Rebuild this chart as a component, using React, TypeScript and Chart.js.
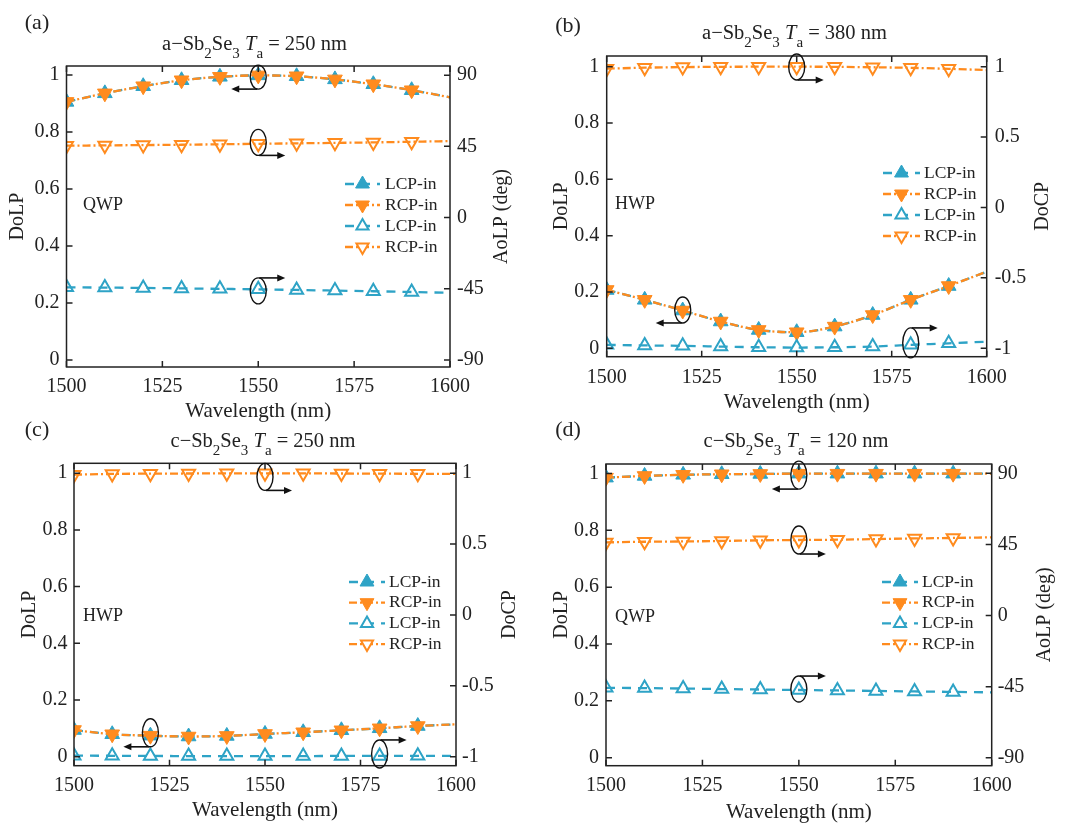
import React, { useEffect, useRef } from "react";
import { Chart, registerables, Plugin, ChartConfiguration } from "chart.js";
import { drawPoint } from "chart.js/helpers";

Chart.register(...registerables);

const FONT = "'Liberation Serif', 'Times New Roman', serif";
const INK = "#222222";
const BLUE = "#2ea3c6";
const ORANGE = "#ff8b1e";

// shared axes
const wavelengths = [1500, 1510, 1520, 1530, 1540, 1550, 1560, 1570, 1580, 1590, 1600];
const wavelengthTicks = [1500, 1525, 1550, 1575, 1600];
const dolpTicks = [0, 0.2, 0.4, 0.6, 0.8, 1];
const aolpTicks = [-90, -45, 0, 45, 90];
const docpTicks = [-1, -0.5, 0, 0.5, 1];

// (a) a-Sb2Se3, Ta = 250 nm (QWP)
const aDolpLcp = [0.906, 0.936, 0.961, 0.982, 0.994, 0.999, 0.996, 0.985, 0.968, 0.947, 0.922];
const aDolpRcp = [0.906, 0.936, 0.961, 0.982, 0.994, 0.999, 0.996, 0.985, 0.968, 0.947, 0.922];
const aAolpLcp = [-44.1, -44.3, -44.5, -44.8, -45.1, -45.4, -45.8, -46.2, -46.6, -47.1, -47.6];
const aAolpRcp = [45.4, 45.6, 45.8, 46.0, 46.3, 46.6, 46.9, 47.2, 47.5, 47.9, 48.3];

// (b) a-Sb2Se3, Ta = 380 nm (HWP)
const bDolpLcp = [0.207, 0.172, 0.134, 0.095, 0.065, 0.057, 0.077, 0.118, 0.172, 0.221, 0.272];
const bDolpRcp = [0.207, 0.172, 0.134, 0.095, 0.065, 0.057, 0.077, 0.118, 0.172, 0.221, 0.272];
const bDocpLcp = [-0.976, -0.98, -0.983, -0.988, -0.993, -0.995, -0.993, -0.988, -0.976, -0.965, -0.953];
const bDocpRcp = [0.986, 0.993, 0.997, 0.999, 1.0, 1.0, 0.999, 0.996, 0.992, 0.985, 0.976];

// (c) c-Sb2Se3, Ta = 250 nm (HWP)
const cDolpLcp = [0.094, 0.079, 0.074, 0.071, 0.073, 0.08, 0.086, 0.093, 0.1, 0.108, 0.114];
const cDolpRcp = [0.094, 0.079, 0.074, 0.071, 0.073, 0.08, 0.086, 0.093, 0.1, 0.108, 0.114];
const cDocpLcp = [-0.993, -0.994, -0.995, -0.996, -0.996, -0.996, -0.996, -0.995, -0.995, -0.994, -0.994];
const cDocpRcp = [0.99, 0.995, 0.997, 0.998, 0.999, 0.999, 0.999, 0.998, 0.997, 0.996, 0.995];

// (d) c-Sb2Se3, Ta = 120 nm (QWP)
const dDolpLcp = [0.985, 0.991, 0.995, 0.997, 0.998, 0.999, 0.999, 0.999, 0.999, 0.999, 0.999];
const dDolpRcp = [0.985, 0.991, 0.995, 0.997, 0.998, 0.999, 0.999, 0.999, 0.999, 0.999, 0.999];
const dAolpLcp = [-45.7, -45.9, -46.2, -46.5, -46.8, -47.1, -47.4, -47.7, -48.0, -48.3, -48.6];
const dAolpRcp = [46.3, 46.7, 46.9, 47.2, 47.6, 47.8, 48.0, 48.4, 48.8, 49.1, 49.5];

type Note = { x: number; y: number; axis: "y" | "y2"; ry: number; side: "top" | "bottom"; dir: 1 | -1 };

// circled-curve + arrow callouts, anchored in data units
const aNotes: Note[] = [
  { x: 1550, axis: "y", y: 0.993, ry: 12, side: "bottom", dir: -1 },
  { x: 1550, axis: "y2", y: 47.5, ry: 13, side: "bottom", dir: 1 },
  { x: 1550, axis: "y2", y: -46.4, ry: 13, side: "top", dir: 1 },
];
const bNotes: Note[] = [
  { x: 1550, axis: "y2", y: 0.998, ry: 13, side: "bottom", dir: 1 },
  { x: 1520, axis: "y", y: 0.136, ry: 13, side: "bottom", dir: -1 },
  { x: 1580, axis: "y2", y: -0.962, ry: 15, side: "top", dir: 1 },
];
const cNotes: Note[] = [
  { x: 1550, axis: "y2", y: 0.974, ry: 13.5, side: "bottom", dir: 1 },
  { x: 1520, axis: "y", y: 0.084, ry: 14, side: "bottom", dir: -1 },
  { x: 1580, axis: "y2", y: -0.981, ry: 14, side: "top", dir: 1 },
];
const dNotes: Note[] = [
  { x: 1550, axis: "y", y: 0.994, ry: 14, side: "bottom", dir: -1 },
  { x: 1550, axis: "y2", y: 47.8, ry: 14, side: "bottom", dir: 1 },
  { x: 1550, axis: "y2", y: -46.5, ry: 13, side: "top", dir: 1 },
];

type Panel = {
  label: string;
  phase: string;
  thickness: string;
  mode: string;
  rightTitle: string;
  rightTicks: number[];
  leftRange: [number, number];
  rightRange: [number, number];
  dolpLcp: number[];
  dolpRcp: number[];
  rightLcp: number[];
  rightRcp: number[];
  notes: Note[];
};

const panels: Panel[] = [
  { label: "(a)", phase: "a", thickness: "250", mode: "QWP", rightTitle: "AoLP (deg)", rightTicks: aolpTicks,
    leftRange: [-0.025, 1.032], rightRange: [-94.5, 95.8],
    dolpLcp: aDolpLcp, dolpRcp: aDolpRcp, rightLcp: aAolpLcp, rightRcp: aAolpRcp, notes: aNotes },
  { label: "(b)", phase: "a", thickness: "380", mode: "HWP", rightTitle: "DoCP", rightTicks: docpTicks,
    leftRange: [-0.03, 1.038], rightRange: [-1.06, 1.076],
    dolpLcp: bDolpLcp, dolpRcp: bDolpRcp, rightLcp: bDocpLcp, rightRcp: bDocpRcp, notes: bNotes },
  { label: "(c)", phase: "c", thickness: "250", mode: "HWP", rightTitle: "DoCP", rightTicks: docpTicks,
    leftRange: [-0.032, 1.035], rightRange: [-1.064, 1.07],
    dolpLcp: cDolpLcp, dolpRcp: cDolpRcp, rightLcp: cDocpLcp, rightRcp: cDocpRcp, notes: cNotes },
  { label: "(d)", phase: "c", thickness: "120", mode: "QWP", rightTitle: "AoLP (deg)", rightTicks: aolpTicks,
    leftRange: [-0.028, 1.033], rightRange: [-95.0, 95.9],
    dolpLcp: dDolpLcp, dolpRcp: dDolpRcp, rightLcp: dAolpLcp, rightRcp: dAolpRcp, notes: dNotes },
];

// page geometry of each panel (canvas box, plot area and text placement, canvas-local px)
type Geom = {
  left: number; top: number; w: number; h: number;
  l: number; t: number; r: number; b: number;
  xTickPad: number; xTitlePad: number; yTickPad: number; yTitlePad: number; rTickPad: number; rTitleX: number;
  titleX: number; titleY: number; labelX: number; labelY: number; modeX: number; modeY: number;
  legX0: number; legX1: number; legTx: number; legY: number; legDy: number;
};

const geoms: Geom[] = [
  { left: 0, top: 0, w: 540, h: 430, l: 66.5, t: 66, r: 450, b: 367,
    xTickPad: 8, xTitlePad: 6, yTickPad: 7, yTitlePad: 6, rTickPad: 7, rTitleX: 502,
    titleX: 254.5, titleY: 50, labelX: 37, labelY: 23, modeX: 83, modeY: 205,
    legX0: 345, legX1: 380, legTx: 385, legY: 184, legDy: 21 },
  { left: 540, top: 0, w: 540, h: 430, l: 66.7, t: 56, r: 446.7, b: 356.7,
    xTickPad: 9, xTitlePad: 15, yTickPad: 7.5, yTitlePad: 10, rTickPad: 8, rTitleX: 503,
    titleX: 254.5, titleY: 39, labelX: 28, labelY: 26, modeX: 75, modeY: 204,
    legX0: 343, legX1: 380, legTx: 384, legY: 173, legDy: 21 },
  { left: 0, top: 415, w: 540, h: 416, l: 74, t: 48.3, r: 456, b: 350.7,
    xTickPad: 8, xTitlePad: 8, yTickPad: 6.5, yTitlePad: 18, rTickPad: 6, rTitleX: 510,
    titleX: 263, titleY: 32, labelX: 37, labelY: 15, modeX: 83, modeY: 201,
    legX0: 349, legX1: 385, legTx: 389, legY: 167, legDy: 20.7 },
  { left: 540, top: 415, w: 540, h: 416, l: 66, t: 49, r: 451.7, b: 350.7,
    xTickPad: 8, xTitlePad: 6, yTickPad: 7, yTitlePad: 10, rTickPad: 6, rTitleX: 505,
    titleX: 256, titleY: 32, labelX: 28, labelY: 15, modeX: 75, modeY: 202,
    legX0: 342, legX1: 378, legTx: 382, legY: 167, legDy: 20.7 },
];

const series = (values: number[]) => wavelengths.map((x, i) => ({ x, y: values[i] }));
// markers every 10 nm, the curve runs on to 1600 without one
const markers = (r: number) => wavelengths.map((w) => (w < 1600 ? r : 0));

const styles = [
  { color: BLUE, dash: [9, 7], rotation: 0, filled: true, radius: 8.5 },
  { color: ORANGE, dash: [8, 3, 2, 3], rotation: 180, filled: true, radius: 8.5 },
  { color: BLUE, dash: [9, 7], rotation: 0, filled: false, radius: 7.5 },
  { color: ORANGE, dash: [8, 3, 2, 3], rotation: 180, filled: false, radius: 7.5 },
];
const legendNames = ["LCP-in", "RCP-in", "LCP-in", "RCP-in"];

const PanelChart: React.FC<{ p: Panel; g: Geom }> = ({ p, g }) => {
  const canvasRef = useRef<HTMLCanvasElement | null>(null);

  useEffect(() => {
    const canvas = canvasRef.current;
    if (!canvas) return;

    const tickFont = { family: FONT, size: 20 };
    const values = [p.dolpLcp, p.dolpRcp, p.rightLcp, p.rightRcp];

    const datasets = styles.map((s, i) => ({
      label: legendNames[i],
      data: series(values[i]),
      yAxisID: i < 2 ? "y" : "y2",
      borderColor: s.color,
      borderWidth: 2.3,
      borderDash: s.dash,
      cubicInterpolationMode: "monotone" as const,
      pointStyle: "triangle" as const,
      pointRotation: s.rotation,
      pointRadius: markers(s.radius),
      pointBackgroundColor: s.filled ? s.color : "rgba(255,255,255,0)",
      pointBorderColor: s.color,
      pointBorderWidth: s.filled ? 1 : 2,
      clip: 0,
      order: 4 - i,
    }));

    const decor: Plugin<"line"> = {
      id: "panelDecor",
      afterDraw(chart) {
        const { ctx, chartArea: a, scales } = chart;
        ctx.save();

        // box + inward ticks, MATLAB style
        ctx.strokeStyle = INK;
        ctx.lineWidth = 1.5;
        ctx.strokeRect(a.left, a.top, a.right - a.left, a.bottom - a.top);
        const tl = 6;
        ctx.beginPath();
        scales.x.ticks.forEach((t) => {
          const px = scales.x.getPixelForValue(t.value);
          ctx.moveTo(px, a.bottom);
          ctx.lineTo(px, a.bottom - tl);
          ctx.moveTo(px, a.top);
          ctx.lineTo(px, a.top + tl);
        });
        scales.y.ticks.forEach((t) => {
          const py = scales.y.getPixelForValue(t.value);
          ctx.moveTo(a.left, py);
          ctx.lineTo(a.left + tl, py);
        });
        scales.y2.ticks.forEach((t) => {
          const py = scales.y2.getPixelForValue(t.value);
          ctx.moveTo(a.right, py);
          ctx.lineTo(a.right - tl, py);
        });
        ctx.stroke();

        ctx.fillStyle = INK;

        // right axis title reads bottom-to-top like the left one, so it is drawn here
        ctx.save();
        ctx.translate(g.rTitleX, (a.top + a.bottom) / 2);
        ctx.rotate(-Math.PI / 2);
        ctx.font = `20px ${FONT}`;
        ctx.textAlign = "center";
        ctx.textBaseline = "middle";
        ctx.fillText(p.rightTitle, 0, 0);
        ctx.restore();

        // title with sub-scripts: a−Sb2Se3 Ta = 250 nm
        const size = 20.5;
        const runs = [
          { text: `${p.phase}\u2212Sb`, sub: false, italic: false },
          { text: "2", sub: true, italic: false },
          { text: "Se", sub: false, italic: false },
          { text: "3", sub: true, italic: false },
          { text: " ", sub: false, italic: false },
          { text: "T", sub: false, italic: true },
          { text: "a", sub: true, italic: false },
          { text: ` = ${p.thickness} nm`, sub: false, italic: false },
        ];
        const fontOf = (r: { sub: boolean; italic: boolean }) =>
          `${r.italic ? "italic " : ""}${r.sub ? Math.round(size * 0.72) : size}px ${FONT}`;
        let total = 0;
        runs.forEach((r) => {
          ctx.font = fontOf(r);
          total += ctx.measureText(r.text).width;
        });
        let cx = g.titleX - total / 2;
        ctx.textAlign = "left";
        ctx.textBaseline = "alphabetic";
        runs.forEach((r) => {
          ctx.font = fontOf(r);
          ctx.fillText(r.text, cx, g.titleY + (r.sub ? size * 0.38 : 0));
          cx += ctx.measureText(r.text).width;
        });

        ctx.textBaseline = "middle";
        ctx.textAlign = "center";
        ctx.font = `22px ${FONT}`;
        ctx.fillText(p.label, g.labelX, g.labelY);

        ctx.textAlign = "left";
        ctx.font = `18px ${FONT}`;
        ctx.fillText(p.mode, g.modeX, g.modeY);

        // legend: line sample with its marker, then label
        styles.forEach((s, i) => {
          const y = g.legY + i * g.legDy;
          ctx.save();
          ctx.strokeStyle = s.color;
          ctx.lineWidth = 2.3;
          ctx.setLineDash(s.dash);
          ctx.beginPath();
          ctx.moveTo(g.legX0, y);
          ctx.lineTo(g.legX1, y);
          ctx.stroke();
          ctx.setLineDash([]);
          ctx.fillStyle = s.filled ? s.color : "#ffffff";
          ctx.lineWidth = s.filled ? 1 : 2;
          drawPoint(ctx, { pointStyle: "triangle", rotation: s.rotation, radius: s.radius - 0.5, borderWidth: ctx.lineWidth }, (g.legX0 + g.legX1) / 2, y);
          ctx.restore();
          ctx.font = `17.5px ${FONT}`;
          ctx.fillStyle = INK;
          ctx.fillText(legendNames[i], g.legTx, y);
        });

        // callouts: ellipse round a curve and an arrow pointing to its axis
        ctx.strokeStyle = "#111111";
        ctx.fillStyle = "#111111";
        p.notes.forEach((n) => {
          const px = scales.x.getPixelForValue(n.x);
          const py = scales[n.axis].getPixelForValue(n.y);
          ctx.lineWidth = 1.4;
          ctx.beginPath();
          ctx.ellipse(px, py, 8, n.ry, 0, 0, Math.PI * 2);
          ctx.stroke();
          const ay = n.side === "top" ? py - n.ry : py + n.ry;
          const x0 = px + n.dir;
          const x1 = px + n.dir * 27;
          ctx.lineWidth = 1.6;
          ctx.beginPath();
          ctx.moveTo(x0, ay);
          ctx.lineTo(x1 - n.dir * 5, ay);
          ctx.stroke();
          ctx.beginPath();
          ctx.moveTo(x1, ay);
          ctx.lineTo(x1 - n.dir * 8, ay - 3.5);
          ctx.lineTo(x1 - n.dir * 8, ay + 3.5);
          ctx.closePath();
          ctx.fill();
        });

        ctx.restore();
      },
    };

    const config: ChartConfiguration<"line"> = {
      type: "line",
      data: { datasets },
      options: {
        animation: false,
        responsive: false,
        layout: { padding: { top: g.t, left: 0, right: 0, bottom: 0 } },
        plugins: { legend: { display: false }, tooltip: { enabled: false }, title: { display: false } },
        scales: {
          x: {
            type: "linear",
            position: "bottom",
            min: 1500,
            max: 1600,
            grid: { display: false, drawTicks: false },
            border: { display: false },
            ticks: { font: tickFont, color: INK, padding: g.xTickPad, maxRotation: 0, autoSkip: false, callback: (v) => String(v) },
            afterBuildTicks: (s) => {
              s.ticks = wavelengthTicks.map((value) => ({ value }));
            },
            afterFit: (s) => {
              s.height = g.h - g.b;
            },
            title: { display: true, text: "Wavelength (nm)", font: { family: FONT, size: 21 }, color: INK, padding: { top: 0, bottom: g.xTitlePad } },
          },
          y: {
            type: "linear",
            position: "left",
            min: p.leftRange[0],
            max: p.leftRange[1],
            grid: { display: false, drawTicks: false },
            border: { display: false },
            ticks: { font: tickFont, color: INK, padding: g.yTickPad, autoSkip: false, callback: (v) => String(v) },
            afterBuildTicks: (s) => {
              s.ticks = dolpTicks.map((value) => ({ value }));
            },
            afterFit: (s) => {
              s.width = g.l;
            },
            title: { display: true, text: "DoLP", font: { family: FONT, size: 20 }, color: INK, padding: { top: g.yTitlePad, bottom: 0 } },
          },
          y2: {
            type: "linear",
            position: "right",
            min: p.rightRange[0],
            max: p.rightRange[1],
            grid: { display: false, drawTicks: false },
            border: { display: false },
            ticks: { font: tickFont, color: INK, padding: g.rTickPad, autoSkip: false, callback: (v) => String(v) },
            afterBuildTicks: (s) => {
              s.ticks = p.rightTicks.map((value) => ({ value }));
            },
            afterFit: (s) => {
              s.width = g.w - g.r;
            },
          },
        },
      },
      plugins: [decor],
    };

    const chart = new Chart(canvas, config);
    return () => {
      chart.destroy();
    };
  }, [p, g]);

  return (
    <canvas
      ref={canvasRef}
      width={g.w}
      height={g.h}
      style={{ position: "absolute", left: g.left, top: g.top, width: g.w, height: g.h }}
    />
  );
};

const App: React.FC = () => {
  return (
    <div style={{ position: "absolute", left: 0, top: 0, width: 1080, height: 831, background: "#ffffff", overflow: "hidden" }}>
      {panels.map((p, i) => (
        <PanelChart key={p.label} p={p} g={geoms[i]} />
      ))}
    </div>
  );
};

export default App;
